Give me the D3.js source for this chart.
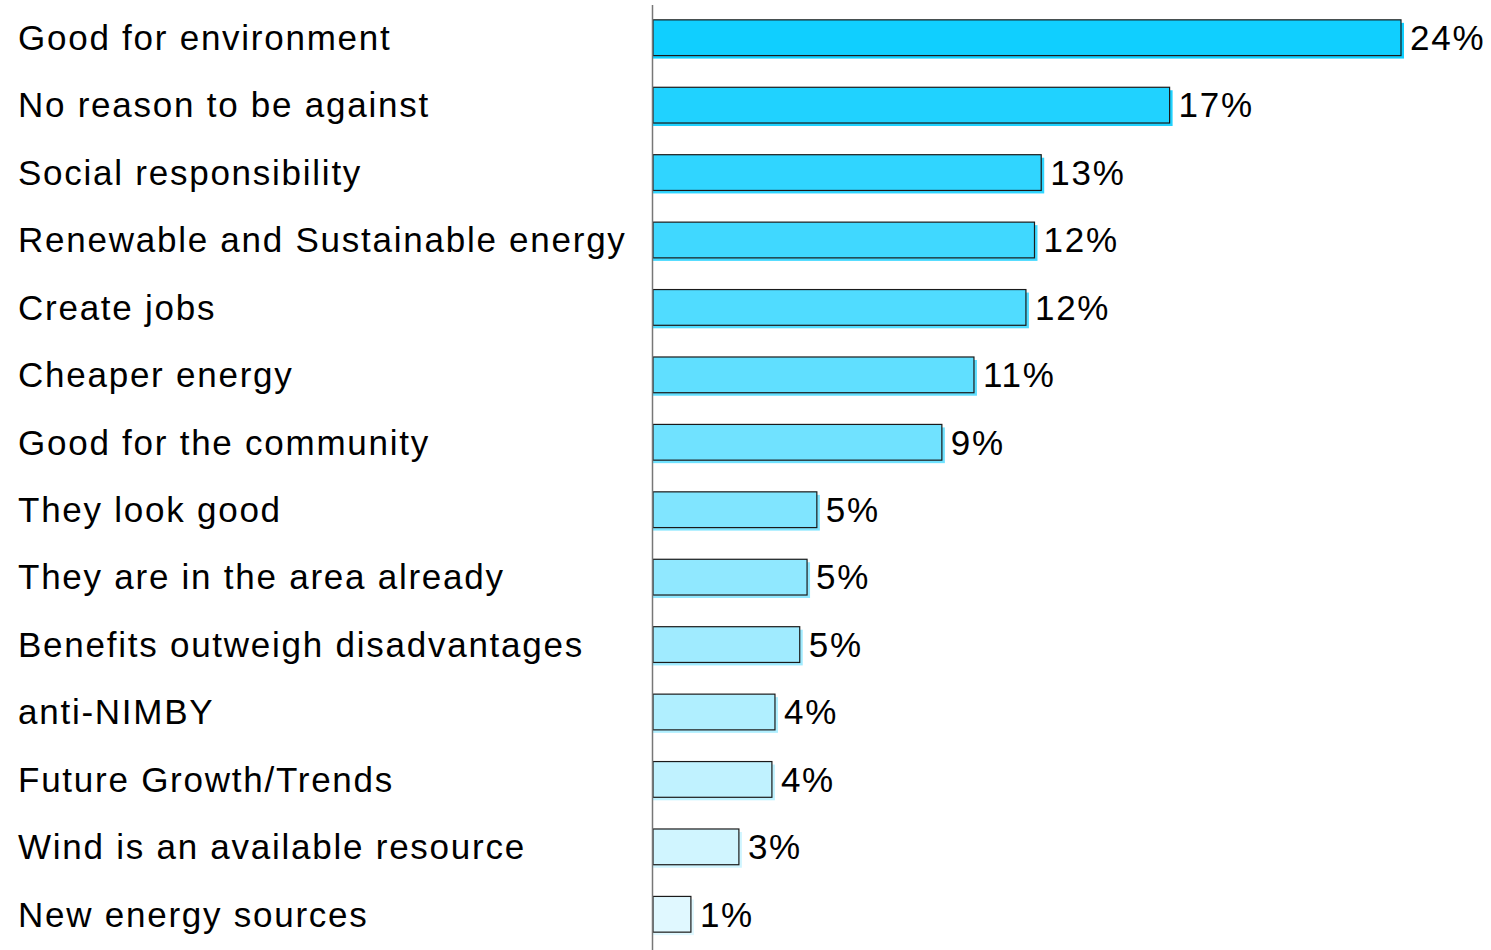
<!DOCTYPE html>
<html>
<head>
<meta charset="utf-8">
<script src="https://cdn.jsdelivr.net/npm/d3@7"></script>
<style>
  body { margin: 0; background: #fff; }
  text { font-family: "Liberation Sans", Arial, sans-serif; fill: #000; letter-spacing: 1.75px; }
</style>
</head>
<body>
<svg id="chart" width="1491" height="950"></svg>
<script>
// reasons (top to bottom)
const reasons = [
    'Good for environment',
    'No reason to be against',
    'Social responsibility',
    'Renewable and Sustainable energy',
    'Create jobs',
    'Cheaper energy',
    'Good for the community',
    'They look good',
    'They are in the area already',
    'Benefits outweigh disadvantages',
    'anti-NIMBY',
    'Future Growth/Trends',
    'Wind is an available resource',
    'New energy sources',
];
// share of respondents (%)
const shares = [24.47, 16.9, 12.7, 12.48, 12.2, 10.5, 9.45, 5.36, 5.04, 4.8, 3.99, 3.89, 2.81, 1.24];
// printed labels
const shareLabels = ['24%', '17%', '13%', '12%', '12%', '11%', '9%', '5%', '5%', '5%', '4%', '4%', '3%', '1%'];

const width = 1491, height = 950;
const svg = d3.select('#chart');

var y = d3.scaleBand()
    .domain(reasons)
    .range([4, 948])
    .paddingInner(0.47)
    .paddingOuter(0.235);

var x = d3.scaleLinear()
    .domain([0, 24.47])
    .range([653, 1401]);

var color = d3.scaleLinear()
    .domain([0, reasons.length - 1])
    .range(['#10cfff', '#e0f8ff'])
    .interpolate(d3.interpolateRgb);

var data = reasons.map((r, i) => ({ name: r, value: shares[i], label: shareLabels[i], i }));

// category labels
svg.append('g')
    .selectAll('text')
    .data(data)
    .join('text')
    .attr('x', 18)
    .attr('y', (d) => y(d.name) + y.bandwidth() / 2)
    .attr('dy', '0.35em')
    .style('font-size', '35px')
    .text((d) => d.name);

var bars = svg.append('g').selectAll('g').data(data).join('g');

// shadow
bars.append('rect')
    .attr('x', x(0))
    .attr('y', (d) => y(d.name) + 3)
    .attr('width', (d) => x(d.value) - x(0) + 3)
    .attr('height', y.bandwidth())
    .attr('fill', (d) => color(d.i));

bars.append('rect')
    .attr('x', x(0))
    .attr('y', (d) => y(d.name))
    .attr('width', (d) => x(d.value) - x(0))
    .attr('height', y.bandwidth())
    .attr('fill', (d) => color(d.i))
    .attr('stroke', '#1a1a1a')
    .attr('stroke-width', 1.2);

// value labels
bars.append('text')
    .attr('x', (d) => x(d.value) + 9)
    .attr('y', (d) => y(d.name) + y.bandwidth() / 2)
    .attr('dy', '0.35em')
    .style('font-size', '35px')
    .text((d) => d.label);

// vertical axis line
svg.append('line')
    .attr('x1', x(0) - 0.5)
    .attr('x2', x(0) - 0.5)
    .attr('y1', 5)
    .attr('y2', height)
    .attr('stroke', '#777')
    .attr('stroke-width', 1.5);
</script>
</body>
</html>
